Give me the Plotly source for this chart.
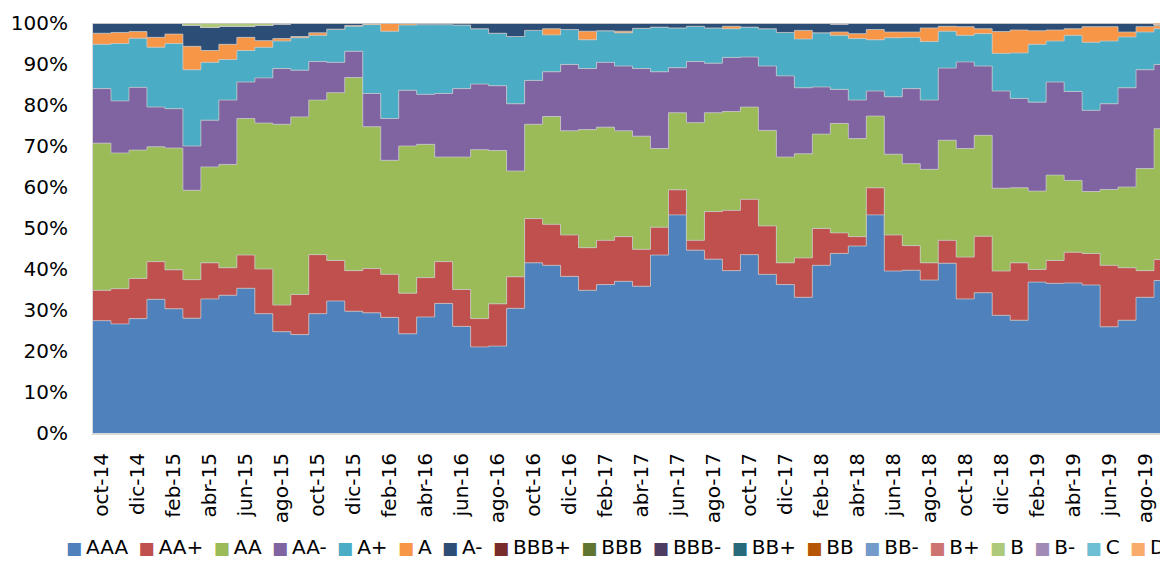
import plotly.graph_objects as go

months = [
    "oct-14", "nov-14", "dic-14", "ene-15", "feb-15", "mar-15", "abr-15", "may-15", "jun-15", "jul-15",
    "ago-15", "sep-15", "oct-15", "nov-15", "dic-15", "ene-16", "feb-16", "mar-16", "abr-16", "may-16",
    "jun-16", "jul-16", "ago-16", "sep-16", "oct-16", "nov-16", "dic-16", "ene-17", "feb-17", "mar-17",
    "abr-17", "may-17", "jun-17", "jul-17", "ago-17", "sep-17", "oct-17", "nov-17", "dic-17", "ene-18",
    "feb-18", "mar-18", "abr-18", "may-18", "jun-18", "jul-18", "ago-18", "sep-18", "oct-18", "nov-18",
    "dic-18", "ene-19", "feb-19", "mar-19", "abr-19", "may-19", "jun-19", "jul-19", "ago-19", "sep-19",
]

AAA = [27.4, 26.6, 27.9, 32.6, 30.3, 28.0, 32.7, 33.6, 35.3, 29.1,
       24.7, 24.0, 29.1, 32.2, 29.7, 29.3, 28.2, 24.2, 28.3, 31.6,
       26.0, 21.0, 21.2, 30.4, 41.5, 40.9, 38.2, 34.8, 36.2, 37.0,
       35.8, 43.4, 53.2, 44.6, 42.4, 39.6, 43.5, 38.7, 36.2, 33.1,
       40.9, 43.8, 45.6, 53.2, 39.5, 39.7, 37.3, 41.4, 32.7, 34.2,
       28.7, 27.5, 36.8, 36.5, 36.6, 36.1, 25.9, 27.5, 33.1, 37.2]
AA_plus = [7.4, 8.6, 9.8, 9.2, 9.5, 9.4, 8.8, 6.7, 8.1, 10.9,
           6.5, 9.8, 14.4, 9.9, 9.9, 10.8, 10.5, 9.9, 9.6, 10.2,
           9.0, 6.9, 10.3, 7.7, 10.8, 10.0, 10.1, 10.4, 10.8, 10.9,
           9.0, 6.8, 6.1, 2.4, 11.6, 14.7, 13.5, 11.8, 5.3, 9.6,
           9.0, 5.0, 2.3, 6.6, 8.8, 6.0, 4.2, 5.6, 10.2, 13.8,
           10.8, 14.0, 3.1, 5.6, 7.5, 7.7, 15.0, 12.8, 6.5, 5.1]
AA = [35.9, 33.1, 31.3, 28.0, 29.7, 21.8, 23.4, 25.2, 33.3, 35.6,
      44.1, 43.3, 37.7, 40.9, 47.1, 34.6, 27.8, 35.9, 32.5, 25.5,
      32.3, 41.2, 37.4, 25.8, 23.0, 26.3, 25.4, 28.8, 27.6, 25.8,
      27.6, 19.2, 18.8, 28.7, 24.1, 24.1, 22.5, 23.3, 25.8, 25.4,
      23.0, 26.7, 23.9, 17.5, 19.7, 20.0, 22.8, 24.4, 26.5, 24.6,
      20.2, 18.3, 19.1, 20.8, 17.5, 15.1, 18.5, 19.7, 24.9, 31.9]
AA_minus = [13.3, 12.7, 15.3, 9.7, 9.6, 10.8, 11.4, 15.7, 8.9, 11.0,
            13.6, 11.4, 9.4, 7.4, 6.4, 8.1, 10.2, 13.6, 12.2, 15.5,
            16.7, 16.0, 15.8, 16.4, 10.7, 10.9, 16.2, 14.9, 15.8, 15.8,
            16.5, 18.7, 11.0, 14.9, 12.1, 13.2, 12.2, 15.7, 19.8, 16.1,
            11.5, 8.3, 9.4, 6.1, 14.0, 18.3, 16.9, 17.6, 21.1, 16.9,
            23.7, 21.8, 21.7, 22.7, 21.7, 19.8, 20.9, 24.2, 24.1, 15.7]
A_plus = [10.8, 14.0, 12.0, 14.6, 15.9, 18.6, 14.1, 9.9, 7.7, 7.5,
          6.7, 7.9, 6.4, 8.0, 6.1, 16.8, 21.3, 15.9, 17.0, 16.8,
          15.5, 13.5, 12.8, 16.4, 12.2, 9.0, 8.5, 7.0, 7.7, 8.1,
          9.8, 10.9, 9.7, 8.6, 8.6, 7.0, 7.3, 9.1, 10.6, 11.9,
          13.2, 13.2, 15.0, 12.5, 14.4, 12.5, 14.3, 9.0, 6.5, 7.9,
          9.2, 11.1, 14.1, 10.0, 13.7, 16.6, 15.3, 12.4, 9.2, 8.7]
A = [2.7, 2.7, 1.6, 2.4, 2.3, 5.7, 2.9, 3.7, 3.2, 1.6,
     0.6, 0.3, 0.6, 0.1, 0.2, 0.2, 1.9, 0.4, 0.0, 0.0,
     0.0, 0.0, 0.0, 0.0, 0.0, 1.5, 0.0, 2.1, 0.0, 0.4,
     0.0, 0.0, 0.0, 0.0, 0.0, 0.6, 0.0, 0.0, 0.0, 2.1,
     0.0, 0.8, 1.2, 2.5, 1.4, 1.3, 3.3, 1.2, 2.1, 1.2,
     5.3, 5.6, 3.3, 2.7, 1.6, 3.8, 3.5, 1.2, 1.3, 0.7]
A_minus = [2.5, 2.3, 2.1, 3.5, 2.7, 5.1, 5.6, 4.4, 2.7, 3.7,
           3.6, 3.3, 2.4, 1.5, 0.6, 0.2, 0.1, 0.1, 0.4, 0.4,
           0.5, 1.4, 2.5, 3.3, 1.8, 1.4, 1.6, 2.0, 1.9, 2.0,
           1.3, 1.0, 1.2, 0.8, 1.2, 0.8, 1.0, 1.4, 2.3, 1.8,
           2.4, 2.0, 2.6, 1.6, 2.2, 2.2, 1.2, 0.8, 0.9, 1.4,
           2.1, 1.7, 1.9, 1.7, 1.4, 0.9, 0.9, 2.2, 0.9, 0.3]
ZERO = [0.0] * 60
B = [0.0, 0.0, 0.0, 0.0, 0.0, 0.6, 1.1, 0.8, 0.8, 0.6,
     0.2, 0.0, 0.0, 0.0, 0.0, 0.0, 0.0, 0.0, 0.0, 0.0,
     0.0, 0.0, 0.0, 0.0, 0.0, 0.0, 0.0, 0.0, 0.0, 0.0,
     0.0, 0.0, 0.0, 0.0, 0.0, 0.0, 0.0, 0.0, 0.0, 0.0,
     0.0, 0.2, 0.0, 0.0, 0.0, 0.0, 0.0, 0.0, 0.0, 0.0,
     0.0, 0.0, 0.0, 0.0, 0.0, 0.0, 0.0, 0.0, 0.0, 0.0]
D = [0.0] * 59 + [0.4]

series_names = ["AAA", "AA+", "AA", "AA-", "A+", "A", "A-", "BBB+", "BBB", "BBB-",
                "BB+", "BB", "BB-", "B+", "B", "B-", "C", "D"]
series_values = [AAA, AA_plus, AA, AA_minus, A_plus, A, A_minus, ZERO, ZERO, ZERO,
                 ZERO, ZERO, ZERO, ZERO, B, ZERO, ZERO, D]
series_colors = ["#4F81BD", "#C0504D", "#9BBB59", "#8064A2", "#4BACC6", "#F79646", "#2C4D75",
                 "#772C2A", "#5F7530", "#4D3B62", "#276A7C", "#B65708", "#729ACA", "#CD7371",
                 "#AFC97A", "#A18BB6", "#6FBFD4", "#F9AB6B"]

tick_idx = list(range(0, 60, 2))
tick_text = [months[i] for i in tick_idx]

# step edges: each month occupies [i-0.5, i+0.5]
x_edges = [i - 0.5 for i in range(len(months))] + [len(months) - 0.5]

fig = go.Figure()
for name, vals, col in zip(series_names, series_values, series_colors):
    fig.add_trace(go.Scatter(
        x=x_edges, y=list(vals) + [vals[-1]],
        name=name, mode="lines", stackgroup="one",
        line=dict(shape="hv", width=0.8, color="rgba(200,200,200,0.9)"),
        fillcolor=col, showlegend=False, hoverinfo="skip",
    ))

FONT = "DejaVu Sans, Verdana, sans-serif"

W, H = 1164, 553
ML, MR, MT, MB = 85, 0, 15, 128
PW, PH = W - ML - MR, H - MT - MB

# legend as a single line of text
parts = []
for name, col in zip(series_names, series_colors):
    parts.append('<span style="color:%s;font-size:17px">\u25A0</span>\u2009%s' % (col, name))
legend_text = "\u00a0\u2009".join(parts)

fig.add_annotation(
    text=legend_text, xref="paper", yref="paper",
    x=(56 - ML) / PW, y=(MT + PH - 539) / PH,
    xanchor="left", yanchor="middle", showarrow=False,
    font=dict(family=FONT, size=20, color="#000000"),
)

fig.update_layout(
    width=W, height=H,
    margin=dict(l=ML, r=MR, t=MT, b=MB),
    paper_bgcolor="white", plot_bgcolor="white",
    showlegend=False,
    font=dict(family=FONT, size=20, color="#000000"),
    xaxis=dict(
        range=[-0.5, 59.5], tickmode="array", tickvals=tick_idx, ticktext=tick_text,
        tickangle=-90, showgrid=False, zeroline=False,
        showline=True, linecolor="#D9D9D9", linewidth=2,
        ticks="", ticklabelstandoff=10,
        tickfont=dict(family=FONT, size=20, color="#000000"),
    ),
    yaxis=dict(
        range=[0, 100], tickmode="array", tickvals=list(range(0, 101, 10)),
        ticktext=["%d%%" % v for v in range(0, 101, 10)],
        showgrid=False, zeroline=False,
        showline=True, linecolor="#D9D9D9", linewidth=1,
        ticks="", ticklabelstandoff=20,
        tickfont=dict(family=FONT, size=20, color="#000000"),
    ),
)

fig.write_html("out.html")
